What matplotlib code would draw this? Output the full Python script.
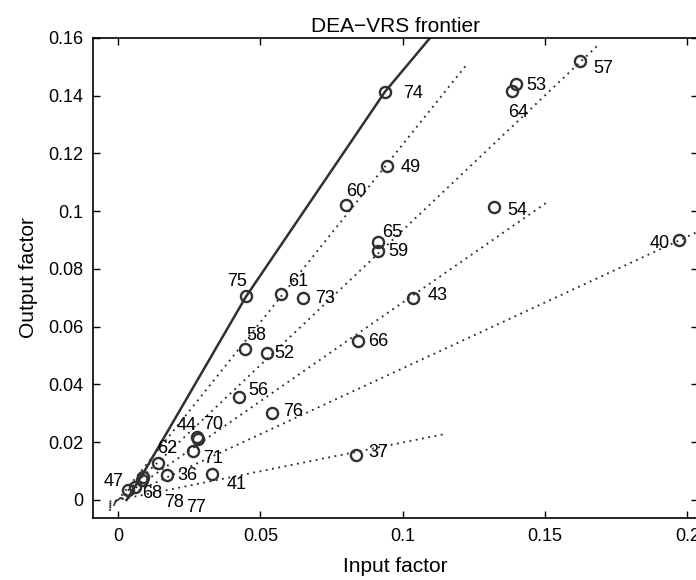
import matplotlib
matplotlib.use("Agg")
import matplotlib.pyplot as plt
from matplotlib import ticker

plt.rcParams["font.family"] = ["Liberation Sans", "DejaVu Sans"]

# units: label, input factor, output factor
units = ["36", "37", "40", "41", "43", "44", "47", "49", "52", "53", "54", "56",
         "57", "58", "59", "60", "61", "62", "64", "65", "66", "68", "70", "71",
         "73", "74", "75", "76", "77", "78"]
input_factor = [0.0171, 0.0836, 0.1972, 0.0329, 0.1038, 0.0277, 0.0036, 0.0944,
                0.0522, 0.1397, 0.1322, 0.0425, 0.1623, 0.0446, 0.0913, 0.0801,
                0.0573, 0.0142, 0.1383, 0.0914, 0.0844, 0.0060, 0.0280, 0.0265,
                0.0651, 0.0938, 0.0450, 0.0542, 0.0089, 0.0083]
output_factor = [0.0087, 0.0155, 0.0899, 0.0089, 0.0701, 0.0217, 0.0033, 0.1158,
                 0.0508, 0.1441, 0.1015, 0.0356, 0.1522, 0.0523, 0.0862, 0.1023,
                 0.0713, 0.0127, 0.1415, 0.0895, 0.0549, 0.0046, 0.0211, 0.0171,
                 0.0699, 0.1414, 0.0705, 0.0300, 0.0079, 0.0069]

# VRS frontier vertices
frontier_x = [0.0030, 0.0090, 0.0450, 0.0938, 0.1096]
frontier_y = [0.0, 0.0095, 0.0705, 0.1414, 0.1600]

# efficiency rays through the origin
ray_slope = [1.231, 0.934, 0.684, 0.456, 0.199]
ray_x_end = [0.1225, 0.1682, 0.1512, 0.2100, 0.1152]
ray_x_start = -0.003

# label offsets (pixels) and alignment, per unit
label_offset = {
    "36": (11, -1, "left"), "37": (12, 3, "left"), "40": (-10, -3, "right"),
    "41": (15, -10, "left"), "43": (14, 2, "left"), "44": (0, 12, "right"),
    "47": (-5, 9, "right"), "49": (14, -2, "left"), "52": (8, 0, "left"),
    "53": (11, -2, "left"), "54": (13, -4, "left"), "56": (9, 7, "left"),
    "57": (13, -8, "left"), "58": (1, 13, "left"), "59": (10, 0, "left"),
    "60": (0, 13, "left"), "61": (7, 13, "left"), "62": (-1, 15, "left"),
    "64": (-4, -21, "left"), "65": (4, 9, "left"), "66": (10, 0, "left"),
    "68": (7, -7, "left"), "70": (5, 15, "left"), "71": (10, -8, "left"),
    "73": (12, 0, "left"), "74": (18, -2, "left"), "75": (-19, 15, "left"),
    "76": (11, 2, "left"), "77": (43, -30, "left"), "78": (22, -22, "left"),
}

dark = "#303030"
fig = plt.figure(figsize=(6.96, 5.8), dpi=100)
ax = fig.add_axes([0.1336, 0.1069, 0.8694, 0.8276])

for s, xe in zip(ray_slope, ray_x_end):
    ax.plot([ray_x_start, xe], [s * ray_x_start, s * xe], color=dark,
            linestyle=(0, (1, 2.4)), linewidth=1.35)

ax.plot(frontier_x, frontier_y, color=dark, linewidth=1.8)

ax.plot(input_factor, output_factor, "o", markersize=8, markerfacecolor="none",
        markeredgecolor=dark, markeredgewidth=1.7)

for name, x, y in zip(units, input_factor, output_factor):
    dx, dy, ha = label_offset[name]
    ax.annotate(name, (x, y), xytext=(dx, dy), textcoords="offset pixels",
                ha=ha, va="center", fontsize=13, color="black")

ax.set_xlim(-0.0088, 0.2038)
ax.set_ylim(-0.00624, 0.16)
ax.set_xticks([0, 0.05, 0.1, 0.15, 0.2])
ax.set_yticks([0, 0.02, 0.04, 0.06, 0.08, 0.1, 0.12, 0.14, 0.16])
fmt = ticker.FuncFormatter(lambda v, p: f"{v:g}")
ax.xaxis.set_major_formatter(fmt)
ax.yaxis.set_major_formatter(fmt)
ax.tick_params(direction="in", length=5, width=1, top=True, right=True,
               labelsize=13, pad=7)
for sp in ax.spines.values():
    sp.set_linewidth(1.2)

ax.set_title("DEA\u2212VRS frontier", fontsize=15, pad=4)
ax.set_xlabel("Input factor", fontsize=15, labelpad=9)
ax.set_ylabel("Output factor", fontsize=15, labelpad=7)

fig.savefig("out.png", dpi=100)
